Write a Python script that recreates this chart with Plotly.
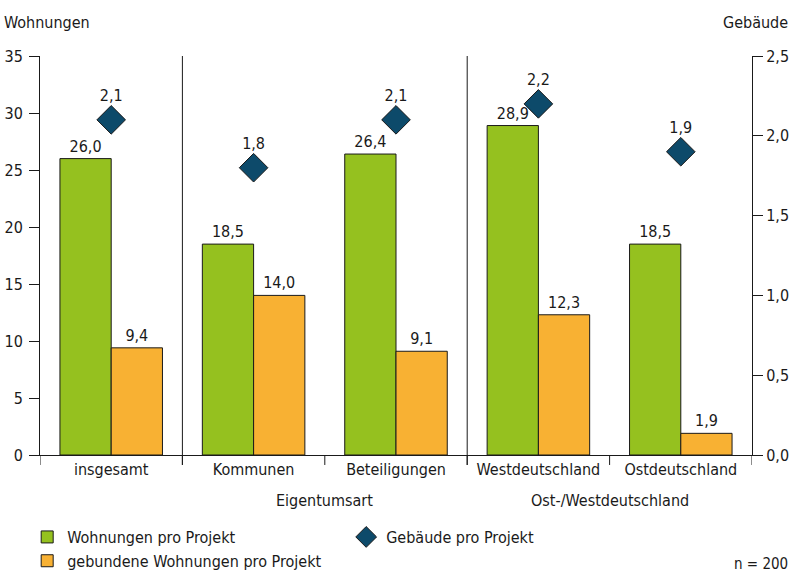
import plotly.graph_objects as go

# Kennzahlen je Kategorie
categories = ["insgesamt", "Kommunen", "Beteiligungen", "Westdeutschland", "Ostdeutschland"]
wohnungen = [26.0, 18.5, 26.4, 28.9, 18.5]
gebundene = [9.4, 14.0, 9.1, 12.3, 1.9]
gebaeude = [2.1, 1.8, 2.1, 2.2, 1.9]
group_labels = ["Eigentumsart", "Ost-/Westdeutschland"]
group_centers = [1.5, 3.5]
separators_x = [0.5, 2.5]

FONT = "DejaVu Sans Condensed, Liberation Sans Narrow, Roboto, sans-serif"
FS = 16
GREEN = "#95c11f"
ORANGE = "#f8b133"
BLUE = "#0d4a6a"
INK = "#1a1a1a"


def de(v):
    return f"{v:.1f}".replace(".", ",")


x = list(range(len(categories)))

fig = go.Figure()
fig.add_trace(go.Bar(
    x=x, y=wohnungen, name="Wohnungen pro Projekt",
    marker=dict(color=GREEN, line=dict(color=INK, width=1)),
    text=[de(v) for v in wohnungen], textposition="outside",
    textfont=dict(size=FS, color=INK), cliponaxis=False,
    legendrank=1,
))
fig.add_trace(go.Bar(
    x=x, y=gebundene, name="gebundene Wohnungen pro Projekt",
    marker=dict(color=ORANGE, line=dict(color=INK, width=1)),
    text=[de(v) for v in gebundene], textposition="outside",
    textfont=dict(size=FS, color=INK), cliponaxis=False,
    legendrank=3,
))
fig.add_trace(go.Scatter(
    x=x, y=gebaeude, yaxis="y2", name="Gebäude pro Projekt",
    mode="markers+text",
    marker=dict(symbol="diamond", size=22, color=BLUE, line=dict(color=INK, width=1)),
    text=[de(v) for v in gebaeude], textposition="top center",
    textfont=dict(size=FS, color=INK), cliponaxis=False,
    legendrank=2,
))

shapes = []
# Trennlinien zwischen den Gruppen
for sx in separators_x:
    shapes.append(dict(type="line", xref="x", yref="paper", x0=sx, x1=sx, y0=-0.025, y1=1,
                       line=dict(color=INK, width=1)))
# Kategoriegrenzen als Teilstriche unter der x-Achse
for bx in [i - 0.5 for i in range(len(categories) + 1)]:
    shapes.append(dict(type="line", xref="x", yref="paper", x0=bx, x1=bx, y0=0, y1=-0.025,
                       line=dict(color=INK, width=1)))

annotations = [
    dict(text="Wohnungen", xref="paper", yref="paper", x=-0.053, y=1.085, xanchor="left",
         yanchor="middle", showarrow=False, font=dict(size=FS, color=INK)),
    dict(text="Gebäude", xref="paper", yref="paper", x=1.053, y=1.085, xanchor="right",
         yanchor="middle", showarrow=False, font=dict(size=FS, color=INK)),
    dict(text="n = 200", xref="paper", yref="paper", x=1.053, y=-0.272, xanchor="right",
         yanchor="middle", showarrow=False, font=dict(size=15, color=INK)),
]
for gx, gl in zip(group_centers, group_labels):
    annotations.append(dict(text=gl, xref="x", yref="paper", x=gx, y=-0.113, xanchor="center",
                            yanchor="middle", showarrow=False, font=dict(size=FS, color=INK)))

fig.update_layout(
    width=791, height=575,
    margin=dict(l=40, r=39, t=56, b=120, autoexpand=False),
    paper_bgcolor="white", plot_bgcolor="white",
    font=dict(family=FONT, size=FS, color=INK),
    separators=",.",
    barmode="group", bargap=0.28, bargroupgap=0,
    showlegend=True,
    legend=dict(orientation="h", x=-0.018, y=-0.163, xanchor="left", yanchor="top",
                entrywidth=274, entrywidthmode="pixels", font=dict(size=FS, color=INK),
                bgcolor="rgba(0,0,0,0)", traceorder="normal"),
    xaxis=dict(range=[-0.5, 4.5], tickvals=x, ticktext=categories, ticks="",
               showline=True, linecolor=INK, linewidth=1, showgrid=False, zeroline=False,
               tickfont=dict(size=FS, color=INK), fixedrange=True),
    yaxis=dict(range=[0, 35], dtick=5, tick0=0, ticks="outside", ticklen=10, tickcolor=INK,
               showline=True, linecolor=INK, linewidth=1, showgrid=False, zeroline=False,
               tickfont=dict(size=FS, color=INK), ticklabelstandoff=3),
    yaxis2=dict(range=[0, 2.5], dtick=0.5, tick0=0, tickformat=".1f", overlaying="y",
                side="right", ticks="outside", ticklen=10, tickcolor=INK,
                showline=True, linecolor=INK, linewidth=1, showgrid=False, zeroline=False,
                tickfont=dict(size=FS, color=INK)),
    shapes=shapes,
    annotations=annotations,
)

fig.write_html("out.html")
